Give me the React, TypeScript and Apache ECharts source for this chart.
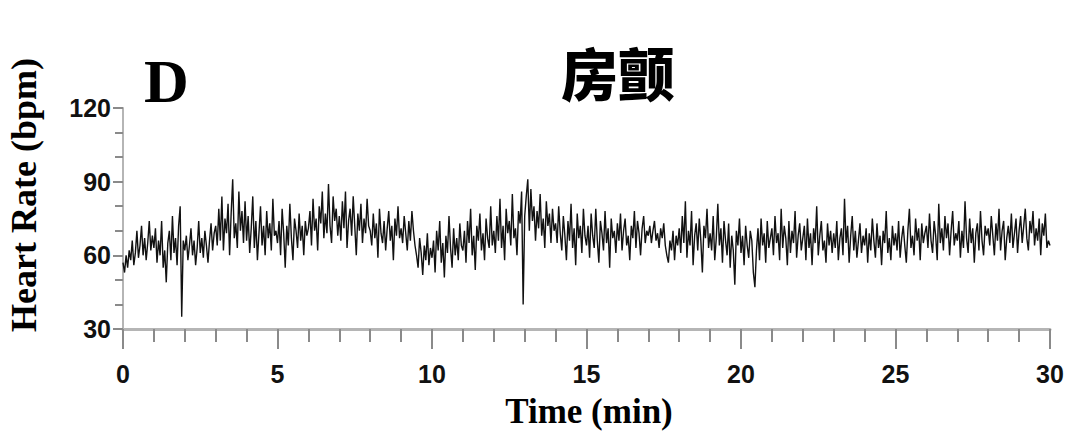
import React, { useEffect, useRef } from "react";
import * as echarts from "echarts";

// Heart rate (bpm), one array per minute, 20 samples per minute (every 3 s)
const m00 = [57,53,60,55,62,58,66,56,61,70,59,64,72,60,67,58,65,74,62,68];
const m01 = [63,71,57,66,60,74,55,62,49,65,70,58,76,61,67,56,72,80,35,66];
const m02 = [62,68,58,64,71,60,66,56,63,74,61,67,59,70,64,57,66,73,62,69];
const m03 = [72,64,79,66,84,62,75,69,81,60,77,91,67,73,63,86,70,78,65,82];
const m04 = [66,76,61,71,84,63,74,58,69,80,64,72,60,78,67,73,62,83,68,70];
const m05 = [65,74,60,79,69,55,72,64,81,67,58,75,70,63,77,66,72,60,74,68];
const m06 = [71,78,64,83,70,75,62,80,73,86,67,77,69,89,72,65,84,74,79,68];
const m07 = [76,66,82,71,86,63,74,79,68,84,72,60,77,70,81,65,75,69,83,72];
const m08 = [70,64,77,67,73,59,79,69,65,74,62,71,78,66,72,58,75,68,80,67];
const m09 = [71,65,76,69,62,74,66,78,70,64,60,55,67,61,52,64,58,69,56,63];
const m10 = [59,66,53,70,62,74,57,65,51,68,61,76,63,55,71,60,67,58,73,64];
const m11 = [62,70,57,74,65,79,60,68,54,72,66,77,62,69,58,75,67,63,80,64];
const m12 = [70,61,76,66,83,63,72,58,79,69,74,64,85,67,71,60,78,73,86,40];
const m13 = [76,84,91,70,87,74,80,66,78,71,85,68,75,63,82,72,77,65,79,70];
const m14 = [73,65,80,69,62,76,68,58,74,66,81,63,71,56,77,67,72,61,79,68];
const m15 = [64,72,59,77,68,63,79,66,57,74,69,62,78,65,71,55,75,67,70,61];
const m16 = [73,66,77,62,70,75,64,68,58,72,67,78,63,74,69,60,71,76,65,70];
const m17 = [68,72,65,70,74,66,69,63,71,67,73,64,60,57,66,62,70,58,68,64];
const m18 = [71,61,76,65,82,59,70,64,78,56,68,73,62,75,66,53,72,67,79,63];
const m19 = [69,62,76,58,67,81,64,71,57,74,66,60,73,55,68,62,48,70,64,75];
const m20 = [61,68,56,72,64,59,70,66,53,47,62,71,58,75,64,69,57,74,63,67];
const m21 = [71,60,76,65,69,58,79,63,72,67,56,74,61,70,65,78,59,68,73,62];
const m22 = [67,72,58,75,63,69,56,71,65,80,60,68,74,62,66,57,73,64,70,61];
const m23 = [69,63,74,58,67,71,60,83,65,72,57,68,76,62,70,59,66,73,61,68];
const m24 = [64,71,57,69,62,75,66,59,73,63,68,56,70,65,78,61,67,58,72,64];
const m25 = [69,62,74,59,67,72,64,57,70,79,63,68,60,75,66,71,58,73,65,69];
const m26 = [72,63,77,66,61,74,68,58,81,65,71,62,76,67,73,60,70,78,64,69];
const m27 = [66,74,59,70,63,82,67,61,75,65,71,57,69,73,62,78,66,60,72,68];
const m28 = [71,64,76,68,60,73,66,79,62,70,74,58,67,72,65,77,63,69,75,61];
const m29 = [70,76,65,72,79,67,62,74,69,78,64,71,66,75,60,73,68,77,63,66];
const mEnd = [64];

const minutes = [m00,m01,m02,m03,m04,m05,m06,m07,m08,m09,m10,m11,m12,m13,m14,m15,m16,m17,m18,m19,m20,m21,m22,m23,m24,m25,m26,m27,m28,m29,mEnd];
const samplesPerMinute = 20;

const yTicks = [30, 60, 90, 120];
const xTicks = [0, 5, 10, 15, 20, 25, 30];

const panelLetter = "D";
const titleText = "房颤";
const yName = "Heart Rate (bpm)";
const xName = "Time (min)";

export default function App() {
  const ref = useRef<HTMLDivElement>(null);
  useEffect(() => {
    if (!ref.current) return;
    const chart = echarts.init(ref.current, undefined, { renderer: "svg" });
    const data: [number, number][] = [];
    minutes.forEach((arr, mi) => {
      arr.forEach((v, i) => {
        data.push([mi + i / samplesPerMinute, v]);
      });
    });
    const labelFont = "'Liberation Sans', Arial, sans-serif";
    const serif = "'Liberation Serif', 'Times New Roman', serif";
    chart.setOption({
      animation: false,
      backgroundColor: "#ffffff",
      grid: { left: 123, right: 24, top: 108, bottom: 119, containLabel: false },
      xAxis: {
        type: "value",
        min: xTicks[0],
        max: xTicks[xTicks.length - 1],
        interval: 5,
        axisLine: { lineStyle: { color: "#b5b5b5", width: 3 } },
        axisTick: { show: true, length: 20, lineStyle: { color: "#8a8a8a", width: 2 } },
        minorTick: { show: true, splitNumber: 5, length: 13, lineStyle: { color: "#8a8a8a", width: 2 } },
        splitLine: { show: false },
        axisLabel: {
          margin: 32,
          color: "#111",
          fontFamily: labelFont,
          fontWeight: "bold",
          fontSize: 25,
        },
      },
      yAxis: {
        type: "value",
        min: yTicks[0],
        max: yTicks[yTicks.length - 1],
        interval: 30,
        axisLine: { show: true, lineStyle: { color: "#b5b5b5", width: 2 } },
        axisTick: { show: true, length: 10, lineStyle: { color: "#8a8a8a", width: 2 } },
        minorTick: { show: true, splitNumber: 3, length: 8, lineStyle: { color: "#8a8a8a", width: 2 } },
        splitLine: { show: false },
        axisLabel: {
          margin: 12,
          color: "#111",
          fontFamily: labelFont,
          fontWeight: "bold",
          fontSize: 25,
        },
      },
      series: [
        {
          type: "line",
          data,
          showSymbol: false,
          symbol: "none",
          lineStyle: { color: "#111111", width: 1.4 },
          z: 1,
        },
      ],
      graphic: [
        {
          type: "text",
          x: 144,
          y: 81,
          style: {
            text: panelLetter,
            fontFamily: serif,
            fontWeight: "bold",
            fontSize: 62,
            fill: "#000",
            textAlign: "left",
            textVerticalAlign: "middle",
          },
        },
        {
          type: "text",
          x: 618,
          y: 71,
          style: {
            text: titleText,
            fontFamily: "'Noto Sans CJK SC', sans-serif",
            fontWeight: 900,
            fontSize: 57,
            fill: "#000",
            textAlign: "center",
            textVerticalAlign: "middle",
          },
        },
        {
          type: "text",
          x: 589,
          y: 411,
          style: {
            text: xName,
            fontFamily: serif,
            fontWeight: "bold",
            fontSize: 35,
            fill: "#000",
            textAlign: "center",
            textVerticalAlign: "middle",
          },
        },
        {
          type: "text",
          x: 24,
          y: 195,
          rotation: Math.PI / 2,
          style: {
            text: yName,
            fontFamily: serif,
            fontWeight: "bold",
            fontSize: 36,
            fill: "#000",
            textAlign: "center",
            textVerticalAlign: "middle",
          },
        },
      ],
    });
    return () => chart.dispose();
  }, []);
  return (
    <div
      ref={ref}
      style={{ position: "fixed", left: 0, top: 0, width: 1074, height: 448, background: "#fff" }}
    />
  );
}
